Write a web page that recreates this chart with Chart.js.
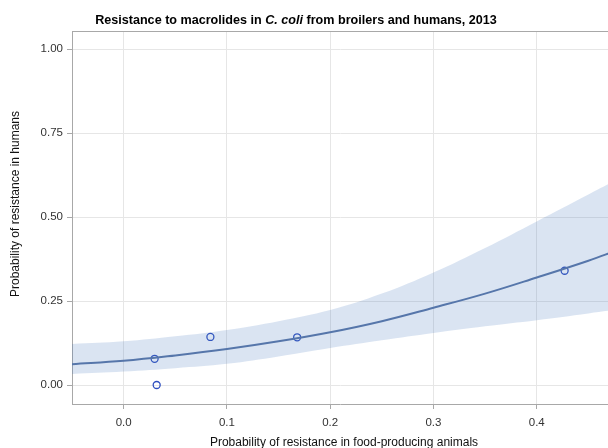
<!DOCTYPE html>
<html>
<head>
<meta charset="utf-8">
<script src="https://cdn.jsdelivr.net/npm/chart.js@4.4.1/dist/chart.umd.min.js"></script>
<style>
    html, body { margin: 0; padding: 0; background: #fff; overflow: hidden; }
    #wrap { position: relative; width: 608px; height: 448px; overflow: hidden; }
    #macrolidesChart { position: absolute; left: 0; top: 0; }
    #chartTitle {
        position: absolute; left: 0; top: 13px; width: 592px;
        text-align: center; color: #000;
        font: bold 12.6px "Liberation Sans", Arial, sans-serif;
    }
</style>
</head>
<body>
<div id="wrap">
    <canvas id="macrolidesChart" width="608" height="448"></canvas>
    <div id="chartTitle">Resistance to macrolides in <i>C. coli</i> from broilers and humans, 2013</div>
</div>
<script>
// Observed points (animals vs humans)
const obsX = [0.030, 0.032, 0.084, 0.168, 0.427];
const obsY = [0.078, 0.000, 0.143, 0.142, 0.340];

// Fitted curve and confidence band
const curveX = [-0.05, 0.0, 0.05, 0.1, 0.15, 0.2, 0.25, 0.3, 0.35, 0.4, 0.45, 0.477];
const fitY   = [0.062, 0.072, 0.088, 0.107, 0.130, 0.157, 0.190, 0.230, 0.272, 0.320, 0.370, 0.400];
const upperY = [0.122, 0.130, 0.145, 0.164, 0.190, 0.223, 0.272, 0.335, 0.408, 0.487, 0.567, 0.610];
const lowerY = [0.033, 0.040, 0.050, 0.063, 0.085, 0.110, 0.133, 0.155, 0.175, 0.193, 0.213, 0.224];

// Tick labels and axis titles
const xTicks = [0.0, 0.1, 0.2, 0.3, 0.4];
const yTicks = [0.00, 0.25, 0.50, 0.75, 1.00];
const xTitle = 'Probability of resistance in food-producing animals';
const yTitle = 'Probability of resistance in humans';

const FONT = '"Liberation Sans", Arial, sans-serif';

function toPoints(xs, ys) {
    return xs.map((x, i) => ({ x: x, y: ys[i] }));
}

// Top frame line (left and bottom come from the axes)
const frameTop = {
    id: 'frameTop',
    beforeDatasetsDraw(chart) {
        const a = chart.chartArea;
        const ctx = chart.ctx;
        ctx.save();
        ctx.strokeStyle = '#a8a8a8';
        ctx.lineWidth = 1;
        ctx.beginPath();
        ctx.moveTo(a.left, a.top + 0.5);
        ctx.lineTo(a.right, a.top + 0.5);
        ctx.stroke();
        ctx.restore();
    }
};

// Axis titles: the original picture is cropped, so they sit off the plot centre
const axisTitles = {
    id: 'axisTitles',
    afterDraw(chart) {
        const ctx = chart.ctx;
        ctx.save();
        ctx.fillStyle = '#111';
        ctx.font = '12px ' + FONT;
        ctx.textAlign = 'center';
        ctx.textBaseline = 'middle';
        // x title (cut by the bottom edge, as in the original)
        ctx.fillText(xTitle, 344, 443);
        // y title
        ctx.translate(16, 204);
        ctx.rotate(-Math.PI / 2);
        ctx.fillText(yTitle, 0, 0);
        ctx.restore();
    }
};

document.addEventListener('DOMContentLoaded', function() {
    const ctx = document.getElementById('macrolidesChart');

    new Chart(ctx, {
        type: 'scatter',
        data: {
            datasets: [
                {
                    label: 'Upper',
                    data: toPoints(curveX, upperY),
                    showLine: true,
                    pointRadius: 0,
                    borderWidth: 0,
                    borderColor: 'rgba(0,0,0,0)',
                    backgroundColor: 'rgba(70, 120, 190, 0.2)',
                    fill: '+1',
                    tension: 0.4
                },
                {
                    label: 'Lower',
                    data: toPoints(curveX, lowerY),
                    showLine: true,
                    pointRadius: 0,
                    borderWidth: 0,
                    borderColor: 'rgba(0,0,0,0)',
                    fill: false,
                    tension: 0.4
                },
                {
                    label: 'Fit',
                    data: toPoints(curveX, fitY),
                    showLine: true,
                    pointRadius: 0,
                    borderWidth: 2,
                    borderColor: '#5a76a6',
                    fill: false,
                    tension: 0.4
                },
                {
                    label: 'Observed',
                    data: toPoints(obsX, obsY),
                    showLine: false,
                    pointRadius: 3.5,
                    pointBorderWidth: 1.3,
                    pointBorderColor: '#2f4fbf',
                    pointBackgroundColor: 'rgba(255,255,255,0)'
                }
            ]
        },
        options: {
            responsive: false,
            animation: false,
            devicePixelRatio: 1,
            layout: { autoPadding: false, padding: { top: 31, left: 0, right: 0, bottom: 0 } },
            plugins: {
                legend: { display: false },
                tooltip: { enabled: false }
            },
            scales: {
                x: {
                    type: 'linear',
                    min: -0.05,
                    max: 0.469,
                    afterBuildTicks: function(scale) {
                        scale.ticks = xTicks.map(v => ({ value: v }));
                    },
                    afterFit: function(scale) {
                        scale.height = scale.chart.height - 404;
                    },
                    ticks: {
                        color: '#333',
                        font: { family: FONT, size: 11.5 },
                        padding: 7,
                        callback: v => v.toFixed(1)
                    },
                    grid: {
                        color: '#e6e6e6',
                        tickColor: '#a8a8a8',
                        tickLength: 5
                    },
                    border: { color: '#a8a8a8', width: 1 },
                    title: { display: false }
                },
                y: {
                    type: 'linear',
                    min: -0.0565,
                    max: 1.0536,
                    afterBuildTicks: function(scale) {
                        scale.ticks = yTicks.map(v => ({ value: v }));
                    },
                    afterFit: function(scale) {
                        scale.width = 72;
                    },
                    ticks: {
                        color: '#333',
                        font: { family: FONT, size: 11.5 },
                        padding: 4,
                        callback: v => v.toFixed(2)
                    },
                    grid: {
                        color: '#e6e6e6',
                        tickColor: '#a8a8a8',
                        tickLength: 5
                    },
                    border: { color: '#a8a8a8', width: 1 },
                    title: { display: false }
                }
            }
        },
        plugins: [frameTop, axisTitles]
    });
});
</script>
</body>
</html>
